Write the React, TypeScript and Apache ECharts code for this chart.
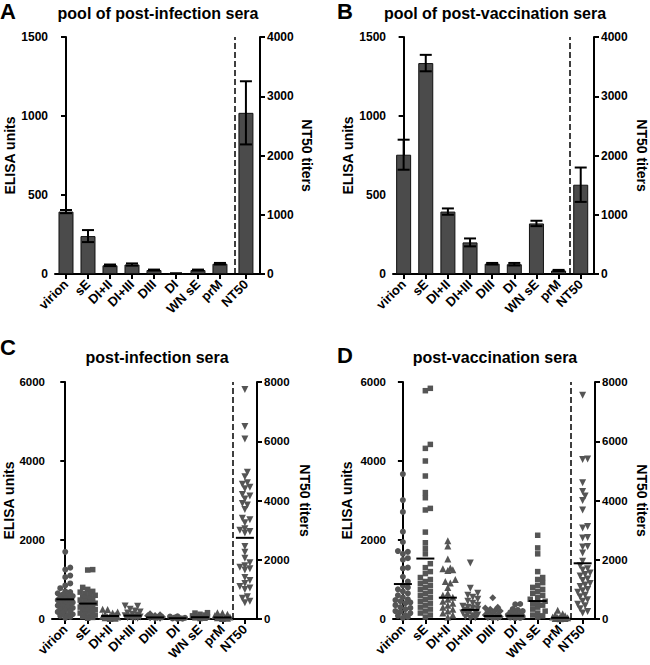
import React, { useEffect, useRef } from "react";
import * as echarts from "echarts";

const categories = ["virion", "sE", "DI+II", "DI+III", "DIII", "DI", "WN sE", "prM", "NT50"];

// Panel A – pool of post-infection sera (ELISA units, SD) and NT50 titer
const poolInfMeans = [395, 240, 55, 60, 25, 3, 25, 65];
const poolInfErr = [10, 38, 5, 7, 3, 1, 3, 5];
const poolInfNT50 = [2720];
const poolInfNT50Err = [533];

// Panel B – pool of post-vaccination sera
const poolVacMeans = [755, 1335, 395, 200, 65, 62, 320, 22];
const poolVacErr = [95, 52, 20, 25, 5, 8, 17, 4];
const poolVacNT50 = [1507];
const poolVacNT50Err = [290];

// Panel C – individual post-infection sera
const infVirion = [1700, 1300, 1250, 1100, 1060, 900, 850, 780, 700, 680, 650, 620, 600, 580, 550, 520, 500, 480, 460, 440, 420, 400, 380, 360, 340, 320, 300, 280, 250, 220, 200, 180, 150, 120, 100, 80, 50, 30];
const infSE = [1250, 1240, 800, 750, 700, 680, 650, 620, 600, 560, 520, 500, 480, 450, 420, 400, 380, 350, 320, 300, 280, 260, 240, 220, 200, 180, 150, 120, 100, 80, 60, 40, 20];
const infDI_II = [250, 240, 180, 150, 120, 100, 80, 70, 60, 50, 40, 30, 20, 10];
const infDI_III = [330, 320, 250, 200, 180, 150, 120, 100, 80, 60, 50, 40, 30, 20, 10];
const infDIII = [130, 110, 90, 80, 60, 50, 40, 30, 20, 10];
const infDI = [70, 60, 40, 30, 20, 15, 10, 5];
const infWNsE = [160, 150, 120, 100, 80, 60, 50, 40, 30, 20, 10];
const infPrM = [160, 150, 120, 90, 70, 50, 40, 30, 20, 10];
const infNT50 = [7750, 6500, 6080, 4950, 4800, 4600, 4550, 4450, 4400, 4200, 4150, 4050, 3900, 3850, 3700, 3400, 3350, 3250, 3050, 3000, 2950, 2900, 2450, 2250, 2050, 1900, 1800, 1750, 1700, 1650, 1400, 1300, 1200, 1100, 1050, 1000, 750, 700, 600, 550];
const infLineValues = [498, 390, 76, 85, 40, 20, 45, 40];
const infNT50Line = [2740];

// Panel D – individual post-vaccination sera
const vacVirion = [3670, 3010, 2710, 2210, 1950, 1720, 1700, 1650, 1540, 1500, 1300, 1280, 1070, 950, 850, 800, 750, 700, 650, 600, 550, 500, 480, 450, 420, 400, 350, 300, 280, 250, 200, 180, 150, 100, 80, 50, 30];
const vacSE = [5840, 5780, 4420, 4320, 4000, 3620, 3200, 3070, 2800, 2760, 2200, 1930, 1790, 1650, 1400, 1300, 1200, 1150, 1050, 1000, 950, 900, 850, 800, 750, 700, 650, 600, 550, 500, 450, 400, 350, 300, 250, 200, 150, 100, 50];
const vacDI_II = [1980, 1850, 1520, 1290, 1270, 1250, 1230, 1000, 950, 910, 800, 650, 600, 550, 500, 450, 400, 350, 300, 250, 200, 150, 100, 50];
const vacDI_III = [1420, 780, 650, 600, 550, 500, 450, 400, 350, 320, 300, 280, 250, 220, 200, 180, 150, 120, 100, 80, 50, 30, 20];
const vacDIII = [540, 300, 280, 250, 220, 200, 180, 150, 120, 100, 80, 60, 50, 40, 30, 20];
const vacDI = [380, 370, 250, 230, 200, 170, 150, 120, 100, 80, 60, 50, 40, 30, 20];
const vacWNsE = [2120, 1800, 1650, 1200, 1050, 1000, 920, 850, 800, 750, 700, 650, 600, 550, 500, 450, 400, 380, 350, 300, 250, 200, 150, 100, 80, 50];
const vacPrM = [220, 130, 100, 80, 60, 50, 40, 30, 20, 15, 10, 5];
const vacNT50 = [7550, 5400, 5380, 4600, 4300, 4150, 4000, 3680, 3120, 3070, 2750, 2730, 2450, 2430, 2230, 1950, 1800, 1700, 1650, 1550, 1500, 1450, 1350, 1300, 1200, 1150, 1100, 1000, 950, 900, 800, 750, 650, 600, 500, 450, 350, 250, 200];
const vacLineValues = [885, 1530, 540, 230, 76, 80, 455, 30];
const vacNT50Line = [1880];

const titles = ["pool of post-infection sera", "pool of post-vaccination sera", "post-infection sera", "post-vaccination sera"];
const letters = ["A", "B", "C", "D"];

const FONT = "'Liberation Sans', Arial, Helvetica, sans-serif";
const SYMBOLS = ["circle", "rect", "triangle", "triangle", "diamond", "circle", "rect", "triangle", "triangle"];
const ROTATE = [0, 0, 0, 180, 0, 0, 0, 0, 180];
const SIZES = [6, 5.5, 7, 7, 7, 6, 5.5, 7, 7];

const layouts = [
  { left: 55, right: 390, top: 37, height: 237, xmin: -0.5, xmax: 8.82, nt: 8.18, dash: 7.68, lmax: 1500, lint: 500, rmax: 4000, rint: 1000, tick: 12, lgap: 38, rgap: 40, letter: [0, 11], title: [158, 13] },
  { left: 393, right: 53, top: 37, height: 237, xmin: -0.48, xmax: 8.6, nt: 8, dash: 7.5, lmax: 1500, lint: 500, rmax: 4000, rint: 1000, tick: 12, lgap: 38, rgap: 41, letter: [337, 11], title: [495, 13] },
  { left: 52, right: 393, top: 382, height: 237, xmin: -0.59, xmax: 8.54, nt: 8, dash: 7.47, lmax: 6000, lint: 2000, rmax: 8000, rint: 2000, tick: 11.5, lgap: 36, rgap: 41, letter: [0, 347], title: [157, 357] },
  { left: 393, right: 54, top: 382, height: 237, xmin: -0.44, xmax: 8.55, nt: 8, dash: 7.48, lmax: 6000, lint: 2000, rmax: 8000, rint: 2000, tick: 11.5, lgap: 39, rgap: 40, letter: [337, 355], title: [495, 357] },
];

function swarm(values: number[], pxPerUnit: number, pxPerIndex: number): number[] {
  const D = 5;
  const step = 2.5;
  const cands = [0];
  for (let k = 1; k <= 3; k++) cands.push(k * step, -k * step);
  const order = values.map((_, i) => i).sort((a, b) => values[a] - values[b]);
  const placed: { x: number; y: number }[] = [];
  const offs = new Array(values.length).fill(0);
  for (const idx of order) {
    const y = values[idx] * pxPerUnit;
    let best = 0;
    let bestD = -1;
    for (const c of cands) {
      let md = Infinity;
      for (const p of placed) {
        const d = Math.hypot(p.x - c, p.y - y);
        if (d < md) md = d;
      }
      if (md >= D) { best = c; bestD = md; break; }
      if (md > bestD) { bestD = md; best = c; }
    }
    placed.push({ x: best, y });
    offs[idx] = best / pxPerIndex;
  }
  return offs;
}

const axisLineStyle = { color: "#000", width: 2 };

function buildOption() {
  const grid: any[] = [];
  const xAxis: any[] = [];
  const yAxis: any[] = [];
  const series: any[] = [];
  const graphic: any[] = [];

  layouts.forEach((L, i) => {
    const positions = [0, 1, 2, 3, 4, 5, 6, 7, L.nt];
    grid.push({ left: L.left, right: L.right, top: L.top, height: L.height, containLabel: false });
    xAxis.push({
      type: "value", gridIndex: i, min: L.xmin, max: L.xmax,
      axisLine: { show: true, onZero: false, lineStyle: axisLineStyle },
      axisTick: { show: true, customValues: positions, length: 5, lineStyle: axisLineStyle },
      axisLabel: {
        customValues: positions, rotate: 45, margin: 8, color: "#000", fontWeight: "bold",
        fontSize: 13, fontFamily: FONT,
        formatter: (v: number) => {
          let k = 0, bd = Infinity;
          positions.forEach((p, j) => { if (Math.abs(p - v) < bd) { bd = Math.abs(p - v); k = j; } });
          return categories[k];
        },
      },
      splitLine: { show: false },
    });
    const common = {
      type: "value", gridIndex: i, min: 0, nameLocation: "middle",
      nameTextStyle: { color: "#000", fontWeight: "bold", fontSize: 14, fontFamily: FONT },
      axisLine: { show: true, lineStyle: axisLineStyle },
      axisTick: { show: true, length: 5, lineStyle: axisLineStyle },
      splitLine: { show: false },
    };
    const tickLabel = { color: "#000", fontWeight: "bold", fontSize: L.tick, fontFamily: FONT, margin: 7, formatter: (v: number) => String(v) };
    yAxis.push({
      ...common, position: "left", max: L.lmax, interval: L.lint, name: "ELISA units", nameGap: L.lgap,
      axisLabel: tickLabel,
    });
    yAxis.push({
      ...common, position: "right", max: L.rmax, interval: L.rint, name: "NT50 titers", nameGap: L.rgap, nameRotate: -90,
      axisLabel: tickLabel,
    });

    const dashLine = {
      silent: true, symbol: "none", label: { show: false },
      lineStyle: { color: "#000", width: 1.5, type: [6, 3] },
      data: [{ xAxis: L.dash }],
    };

    const lineRender = (_p: any, api: any) => {
      const c = api.coord([api.value(0), api.value(1)]);
      return { type: "line", shape: { x1: c[0] - 9, y1: c[1], x2: c[0] + 9, y2: c[1] }, style: { stroke: "#000", lineWidth: 2 } };
    };
    const errRender = (_p: any, api: any) => {
      const x = api.value(0), y = api.value(1), e = api.value(2);
      const t = api.coord([x, y + e]);
      const b = api.coord([x, y - e]);
      const w = 6;
      const st = { stroke: "#000", lineWidth: 2 };
      return {
        type: "group",
        children: [
          { type: "line", shape: { x1: t[0], y1: t[1], x2: b[0], y2: b[1] }, style: st },
          { type: "line", shape: { x1: t[0] - w, y1: t[1], x2: t[0] + w, y2: t[1] }, style: st },
          { type: "line", shape: { x1: b[0] - w, y1: b[1], x2: b[0] + w, y2: b[1] }, style: st },
        ],
      };
    };

    if (i < 2) {
      const means = i === 0 ? poolInfMeans : poolVacMeans;
      const errs = i === 0 ? poolInfErr : poolVacErr;
      const nt = i === 0 ? poolInfNT50 : poolVacNT50;
      const nte = i === 0 ? poolInfNT50Err : poolVacNT50Err;
      const barStyle = { color: "#4b4b4b", borderColor: "#111", borderWidth: 1 };
      series.push({
        type: "bar", xAxisIndex: i, yAxisIndex: 2 * i, barWidth: 15, barGap: "-100%", itemStyle: barStyle, silent: true,
        data: means.map((m, k) => [positions[k], m]), markLine: dashLine,
      });
      series.push({
        type: "bar", xAxisIndex: i, yAxisIndex: 2 * i + 1, barWidth: 15, barGap: "-100%", itemStyle: barStyle, silent: true,
        data: nt.map((m) => [L.nt, m]),
      });
      series.push({
        type: "custom", xAxisIndex: i, yAxisIndex: 2 * i, z: 5, silent: true, renderItem: errRender,
        encode: { x: 0, y: 1 }, data: means.map((m, k) => [positions[k], m, errs[k]]),
      });
      series.push({
        type: "custom", xAxisIndex: i, yAxisIndex: 2 * i + 1, z: 5, silent: true, renderItem: errRender,
        encode: { x: 0, y: 1 }, data: nt.map((m, k) => [L.nt, m, nte[k]]),
      });
    } else {
      const groups = i === 2
        ? [infVirion, infSE, infDI_II, infDI_III, infDIII, infDI, infWNsE, infPrM, infNT50]
        : [vacVirion, vacSE, vacDI_II, vacDI_III, vacDIII, vacDI, vacWNsE, vacPrM, vacNT50];
      const lines = i === 2 ? infLineValues : vacLineValues;
      const ntLine = i === 2 ? infNT50Line : vacNT50Line;
      const width = 650 - L.left - L.right;
      const pxPerIndex = width / (L.xmax - L.xmin);
      groups.forEach((vals, k) => {
        const isNT = k === 8;
        const pxPerUnit = L.height / (isNT ? L.rmax : L.lmax);
        const offs = swarm(vals, pxPerUnit, pxPerIndex);
        series.push({
          type: "scatter", xAxisIndex: i, yAxisIndex: isNT ? 2 * i + 1 : 2 * i, silent: true,
          symbol: SYMBOLS[k], symbolRotate: ROTATE[k], symbolSize: SIZES[k],
          itemStyle: { color: "#555", opacity: 1 },
          data: vals.map((v, j) => [positions[k] + offs[j], v]),
          markLine: k === 0 ? dashLine : undefined,
        });
      });
      series.push({
        type: "custom", xAxisIndex: i, yAxisIndex: 2 * i, z: 5, silent: true, renderItem: lineRender,
        encode: { x: 0, y: 1 }, data: lines.map((m, k) => [positions[k], m]),
      });
      series.push({
        type: "custom", xAxisIndex: i, yAxisIndex: 2 * i + 1, z: 5, silent: true, renderItem: lineRender,
        encode: { x: 0, y: 1 }, data: ntLine.map((m) => [L.nt, m]),
      });
    }

    graphic.push({
      type: "text", x: L.letter[0], y: L.letter[1],
      style: { text: letters[i], font: `bold 22px ${FONT}`, fill: "#000", textAlign: "left", textVerticalAlign: "middle", align: "left", verticalAlign: "middle" },
    });
    graphic.push({
      type: "text", x: L.title[0], y: L.title[1],
      style: { text: titles[i], font: `bold 16px ${FONT}`, fill: "#000", textAlign: "center", textVerticalAlign: "middle", align: "center", verticalAlign: "middle" },
    });
  });

  return { animation: false, backgroundColor: "#fff", grid, xAxis, yAxis, series, graphic };
}

export default function App() {
  const ref = useRef<HTMLDivElement>(null);
  useEffect(() => {
    if (!ref.current) return;
    const chart = echarts.init(ref.current, undefined, { renderer: "svg" });
    chart.setOption(buildOption() as any);
    return () => chart.dispose();
  }, []);
  return <div ref={ref} style={{ position: "fixed", left: 0, top: 0, width: 650, height: 665, background: "#fff" }} />;
}
